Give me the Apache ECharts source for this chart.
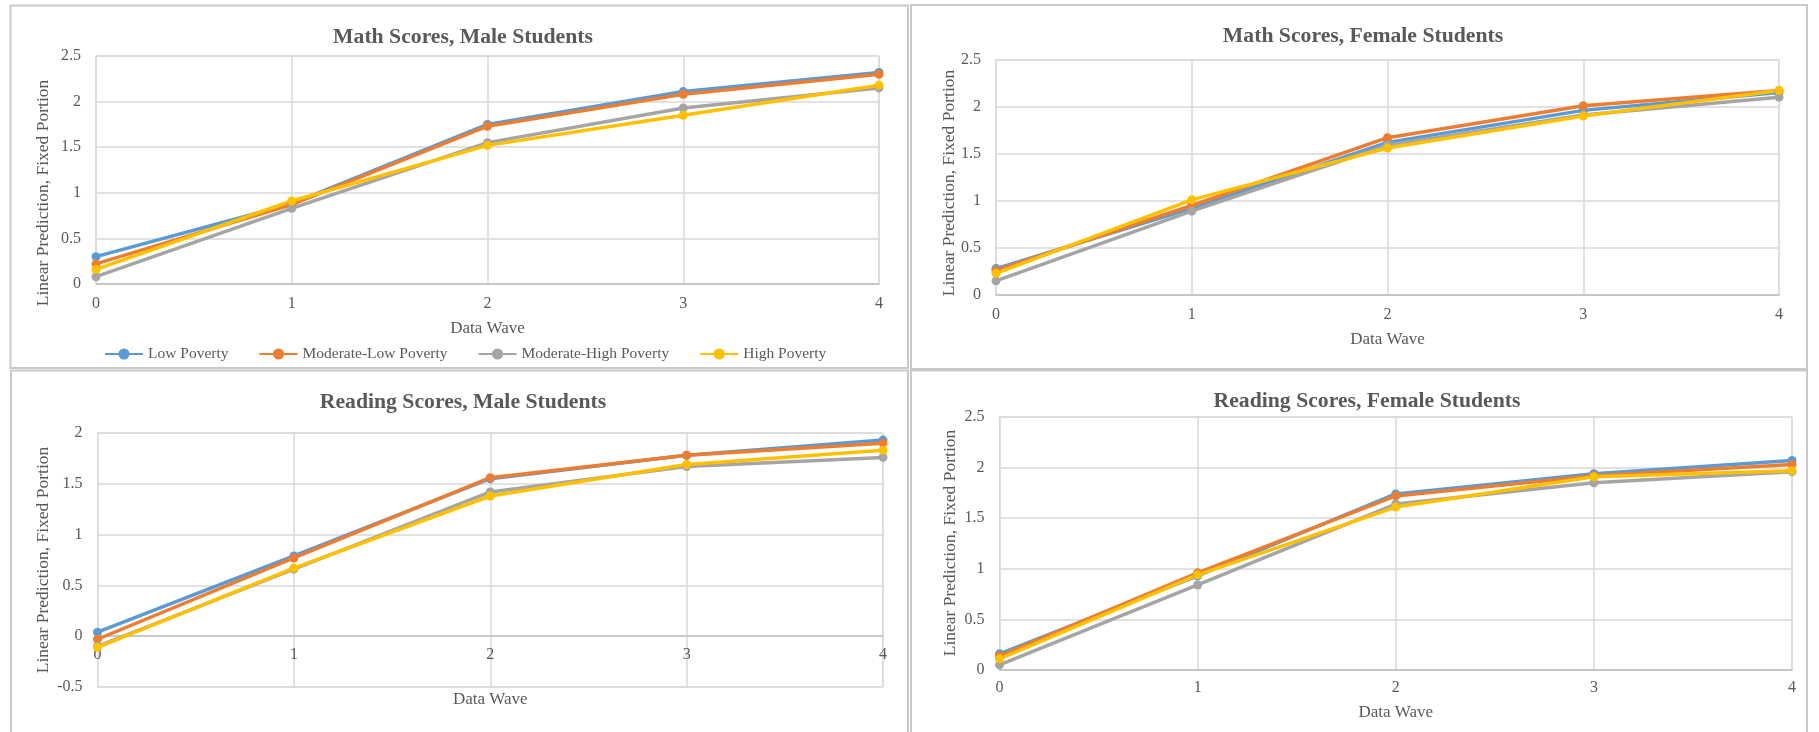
<!DOCTYPE html>
<html>
<head>
<meta charset="utf-8">
<script src="https://cdn.jsdelivr.net/npm/echarts@6/dist/echarts.min.js"></script>
<style>
html,body{margin:0;padding:0;background:#fff;}
#chart{width:1819px;height:732px;}
</style>
</head>
<body>
<div id="chart"></div>
<script>
var waves = ['0', '1', '2', '3', '4'];
var seriesNames = ['Low Poverty', 'Moderate-Low Poverty', 'Moderate-High Poverty', 'High Poverty'];
var seriesColors = ['#5B9BD5', '#ED7D31', '#A5A5A5', '#FFC000'];

var panelTitles = ['Math Scores, Male Students', 'Math Scores, Female Students',
                   'Reading Scores, Male Students', 'Reading Scores, Female Students'];

// Math, male
var mathMaleLow     = [0.30, 0.88, 1.75, 2.11, 2.32];
var mathMaleModLow  = [0.22, 0.87, 1.73, 2.08, 2.30];
var mathMaleModHigh = [0.08, 0.83, 1.55, 1.93, 2.15];
var mathMaleHigh    = [0.16, 0.91, 1.52, 1.85, 2.18];
// Math, female
var mathFemaleLow     = [0.28, 0.92, 1.62, 1.96, 2.15];
var mathFemaleModLow  = [0.26, 0.95, 1.67, 2.01, 2.17];
var mathFemaleModHigh = [0.15, 0.89, 1.59, 1.91, 2.10];
var mathFemaleHigh    = [0.23, 1.01, 1.56, 1.90, 2.17];
// Reading, male
var readMaleLow     = [0.04, 0.79, 1.55, 1.78, 1.93];
var readMaleModLow  = [-0.03, 0.77, 1.56, 1.78, 1.90];
var readMaleModHigh = [-0.10, 0.66, 1.42, 1.67, 1.76];
var readMaleHigh    = [-0.11, 0.67, 1.38, 1.69, 1.83];
// Reading, female
var readFemaleLow     = [0.16, 0.93, 1.74, 1.94, 2.07];
var readFemaleModLow  = [0.14, 0.96, 1.72, 1.92, 2.03];
var readFemaleModHigh = [0.05, 0.84, 1.64, 1.85, 1.96];
var readFemaleHigh    = [0.11, 0.94, 1.61, 1.91, 1.97];

var yMins = [0, 0, -0.5, 0];
var yMaxs = [2.5, 2.5, 2, 2.5];

var panelData = [
  [mathMaleLow, mathMaleModLow, mathMaleModHigh, mathMaleHigh],
  [mathFemaleLow, mathFemaleModLow, mathFemaleModHigh, mathFemaleHigh],
  [readMaleLow, readMaleModLow, readMaleModHigh, readMaleHigh],
  [readFemaleLow, readFemaleModLow, readFemaleModHigh, readFemaleHigh]
];

// layout (pixels)
var grids = [
  {left: 96,  top: 56,  width: 783, height: 228},
  {left: 996, top: 59.5, width: 783, height: 235.5},
  {left: 97.5, top: 433, width: 785.5, height: 254},
  {left: 999.5, top: 417, width: 792.5, height: 253}
];
var titlePos = [[458, 21], [1358, 20], [458, 386], [1362, 385]];
var yNamePos = [[43.5, 193], [949, 183], [43.5, 560], [950.5, 543]];
var xNameGap = [36, 36, 55, 34.5];
var xLabelMargin = [12, 12, 11, 10];
var borders = [
  [10.5, 5.5, 897.5, 362.5],
  [911, 5, 896, 364],
  [11, 370.5, 897, 400],
  [911, 370.5, 896, 400]
];

var FONT = '"Liberation Serif", "Times New Roman", serif';
var TXT = '#595959';

var option = {
  backgroundColor: '#ffffff',
  animation: false,
  title: [],
  grid: [],
  xAxis: [],
  yAxis: [],
  series: [],
  graphic: [],
  legend: {
    data: seriesNames,
    left: 99,
    top: 341,
    itemWidth: 38,
    itemHeight: 14,
    itemGap: 30,
    textStyle: {fontFamily: FONT, fontSize: 15.5, color: TXT}
  }
};

for (var p = 0; p < 4; p++) {
  var g = grids[p];
  // pixel offset that places the category axis on the value-axis zero line
  var zeroOffset = yMins[p] < 0 ? -(g.height * (0 - yMins[p]) / (yMaxs[p] - yMins[p])) : 0;
  option.title.push({
    text: panelTitles[p],
    left: titlePos[p][0],
    top: titlePos[p][1],
    textAlign: 'center',
    textStyle: {fontFamily: FONT, fontSize: 21.7, fontWeight: 'bold', color: TXT}
  });
  option.grid.push({
    left: g.left, top: g.top, width: g.width, height: g.height,
    show: true, borderColor: '#D9D9D9', borderWidth: 1, containLabel: false
  });
  option.xAxis.push({
    type: 'category',
    gridIndex: p,
    data: waves,
    boundaryGap: false,
    position: 'bottom',
    offset: zeroOffset,
    name: 'Data Wave',
    nameLocation: 'middle',
    nameGap: xNameGap[p],
    nameTextStyle: {fontFamily: FONT, fontSize: 17, color: TXT},
    axisLine: {show: true, onZero: false, lineStyle: {color: '#BFBFBF', width: 1.5}},
    axisTick: {show: false},
    axisLabel: {fontFamily: FONT, fontSize: 16, color: TXT, margin: xLabelMargin[p]},
    splitLine: {show: true, lineStyle: {color: '#D9D9D9', width: 1.5}}
  });
  option.yAxis.push({
    type: 'value',
    gridIndex: p,
    min: yMins[p],
    max: yMaxs[p],
    interval: 0.5,
    axisLine: {show: false},
    axisTick: {show: false},
    axisLabel: {fontFamily: FONT, fontSize: 16, color: TXT, margin: 15},
    splitLine: {show: true, lineStyle: {color: '#D9D9D9', width: 1.5}}
  });
  for (var s = 0; s < 4; s++) {
    option.series.push({
      type: 'line',
      name: seriesNames[s],
      xAxisIndex: p,
      yAxisIndex: p,
      data: panelData[p][s],
      symbol: 'circle',
      symbolSize: 9,
      showSymbol: true,
      lineStyle: {color: seriesColors[s], width: 3.5},
      itemStyle: {color: seriesColors[s]},
      emphasis: {disabled: true}
    });
  }
  option.graphic.push({
    type: 'text',
    x: yNamePos[p][0],
    y: yNamePos[p][1],
    rotation: Math.PI / 2,
    style: {
      text: 'Linear Prediction, Fixed Portion',
      fontFamily: FONT,
      fontSize: 17.5,
      fill: TXT,
      align: 'center',
      verticalAlign: 'middle'
    }
  });
  option.graphic.push({
    type: 'rect',
    shape: {x: borders[p][0], y: borders[p][1], width: borders[p][2], height: borders[p][3]},
    style: {fill: 'none', stroke: '#C9C9C9', lineWidth: 2},
    silent: true,
    z: -1
  });
}

var chart = echarts.init(document.getElementById('chart'), null, {renderer: 'canvas'});
chart.setOption(option);
</script>
</body>
</html>
